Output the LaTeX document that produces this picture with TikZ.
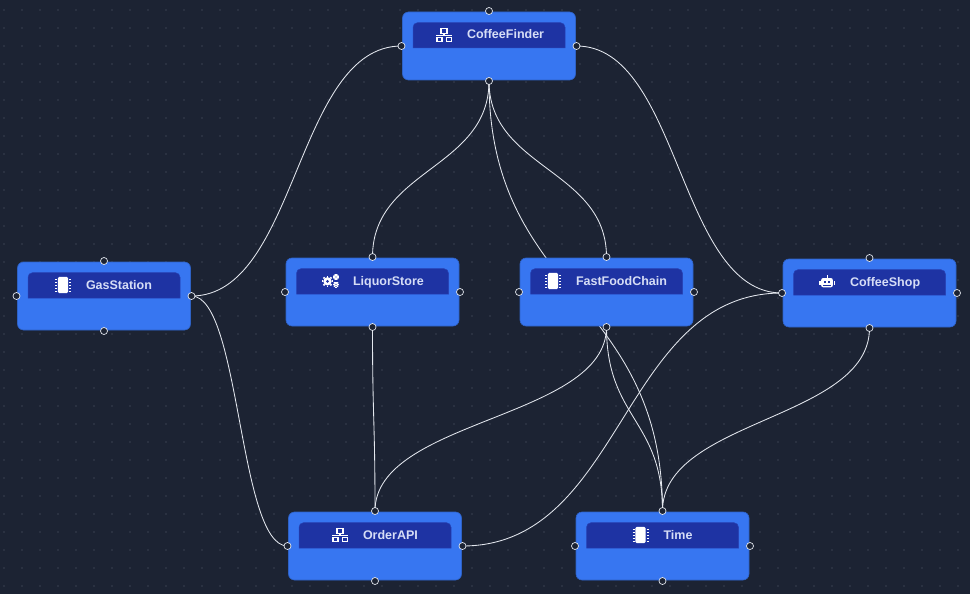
\documentclass[tikz,border=0pt]{standalone}
\usepackage{fontspec}
\setmainfont{Liberation Sans}
\usetikzlibrary{backgrounds}
\definecolor{canvasbg}{HTML}{1C2333}
\definecolor{griddot}{HTML}{5A6172}
\definecolor{blockblue}{HTML}{3776F1}
\definecolor{blockedge}{HTML}{2E62C6}
\definecolor{barblue}{HTML}{1E33A3}
\definecolor{baredge}{HTML}{2742B4}
\definecolor{titlefg}{HTML}{D6DDF6}
\definecolor{wirefg}{HTML}{E3E7EE}
\tikzset{
  block/.style={rectangle, rounded corners=6pt, fill=blockblue, draw=blockedge, line width=0.6pt, minimum width=173pt, minimum height=68pt, inner sep=0pt, outer sep=1pt},
  bar/.style={fill=barblue, draw=baredge, line width=0.5pt},
  title/.style={anchor=base west, inner sep=0pt, text=titlefg, font=\bfseries\fontsize{12.5}{14}\selectfont},
  port/.style={circle, fill=canvasbg, draw=wirefg, line width=0.7pt, minimum size=7pt, inner sep=0pt},
  wire/.style={draw=wirefg, line width=0.85pt},
  chipicon/.pic={
    \fill[white, rounded corners=1.5pt] (-5.2,-8.2) rectangle (5.2,8.2);
    \foreach \t in {-6,-3,0,3,6} {
      \draw[white, line width=0.8pt] (-8,\t) -- (-6,\t);
      \draw[white, line width=0.8pt] (6,\t) -- (8,\t);
    }
  },
  neticon/.pic={
    \draw[white, line width=1.3pt] (-3,-6.5) rectangle (3,-1.8);
    \draw[white, line width=1.3pt] (-8,0.3) -- (8,0.3);
    \draw[white, line width=1.3pt] (0,-1.8) -- (0,0.3);
    \draw[white, line width=1.3pt] (-7,2.5) rectangle (-2,6.5);
    \draw[white, line width=1.3pt] (2.5,2.5) rectangle (7.5,6.5);
  },
  gearicon/.pic={
    \foreach \gx/\gy/\gr in {-2.5/0.3/4.2, 6/-4/2.1, 6/3.5/2.1} {
      \fill[white] (\gx,\gy) circle (\gr);
      \foreach \a in {0,45,...,315}
        \draw[white, line width=1.7pt, shift={(\gx,\gy)}] (\a:\gr) -- (\a:\gr*1.35);
      \fill[barblue] (\gx,\gy) circle (\gr*0.35);
    }
  },
  roboticon/.pic={
    \fill[white, rounded corners=2pt] (-5.8,-4) rectangle (5.8,5.3);
    \draw[white, line width=1pt] (0,-4) -- (0,-7);
    \fill[white] (-7.6,-1.5) rectangle (-6.5,3);
    \fill[white] (6.5,-1.5) rectangle (7.6,3);
    \fill[barblue] (-3,-1) rectangle (-1,0.6);
    \fill[barblue] (1,-1) rectangle (3,0.6);
    \foreach \m in {-3,-1,1,3}
      \fill[barblue] (\m-0.6,2.6) rectangle (\m+0.6,3.5);
  },
}

\begin{document}
\begin{tikzpicture}[x=1pt, y=-1pt]
\useasboundingbox (0,0) rectangle (970,594);
\foreach \name/\cx/\cy/\ico/\ix/\label in {
  coffeeFinder/489/46/neticon/444/CoffeeFinder,
  gasStation/104/296/chipicon/63/GasStation,
  liquorStore/372.5/292/gearicon/330/LiquorStore,
  fastFoodChain/606.5/292/chipicon/553/FastFoodChain,
  coffeeShop/869.5/293/roboticon/827/CoffeeShop,
  orderAPI/375/546/neticon/340/OrderAPI,
  timeTool/662.5/546/chipicon/640.5/Time} {
  \node [block] (\name) at (\cx,\cy) {};
  \path [bar] (\cx-76,\cy+2) [rounded corners=4.5pt] -- (\cx-76,\cy-23.3) -- (\cx+76,\cy-23.3) [sharp corners] -- (\cx+76,\cy+2) -- cycle;
  \node [title] (\name Title) at (\ix+22.8,\cy-7) {\label};
  \pic at (\ix,\cy-11) {\ico};
  \foreach \side in {north,south,east,west}
    \node [port] (\name-\side) at (\name.\side) {};
}
\begin{pgfonlayer}{background}
\fill [canvasbg] (0,0) rectangle (970,594);
\foreach \gridx in {0,...,53}
  \foreach \gridy in {0,...,32}
    \fill [griddot] (4+18*\gridx,10+18*\gridy) circle (0.7);
\draw [wire] (coffeeFinder.west) .. controls +(-106,0) and +(106,0) .. (gasStation.east);
\draw [wire] (coffeeFinder.east) .. controls +(103.5,0) and +(-103.5,0) .. (coffeeShop.west);
\draw [wire] (coffeeFinder.south) .. controls +(0,88) and +(0,-88) .. (liquorStore.north);
\draw [wire] (coffeeFinder.south) .. controls +(0,88) and +(0,-88) .. (fastFoodChain.north);
\draw [wire] (coffeeFinder.south) .. controls +(0,215) and +(0,-215) .. (timeTool.north);
\draw [wire] (gasStation.east) .. controls +(49,0) and +(-49,0) .. (orderAPI.west);
\draw [wire] (liquorStore.south) .. controls +(0,92) and +(0,-92) .. (orderAPI.north);
\draw [wire] (fastFoodChain.south) .. controls +(0,92) and +(0,-92) .. (orderAPI.north);
\draw [wire] (fastFoodChain.south) .. controls +(0,92) and +(0,-92) .. (timeTool.north);
\draw [wire] (coffeeShop.south) .. controls +(0,92) and +(0,-92) .. (timeTool.north);
\draw [wire] (orderAPI.east) .. controls +(161,0) and +(-161,0) .. (coffeeShop.west);
\end{pgfonlayer}
\end{tikzpicture}
\end{document}
